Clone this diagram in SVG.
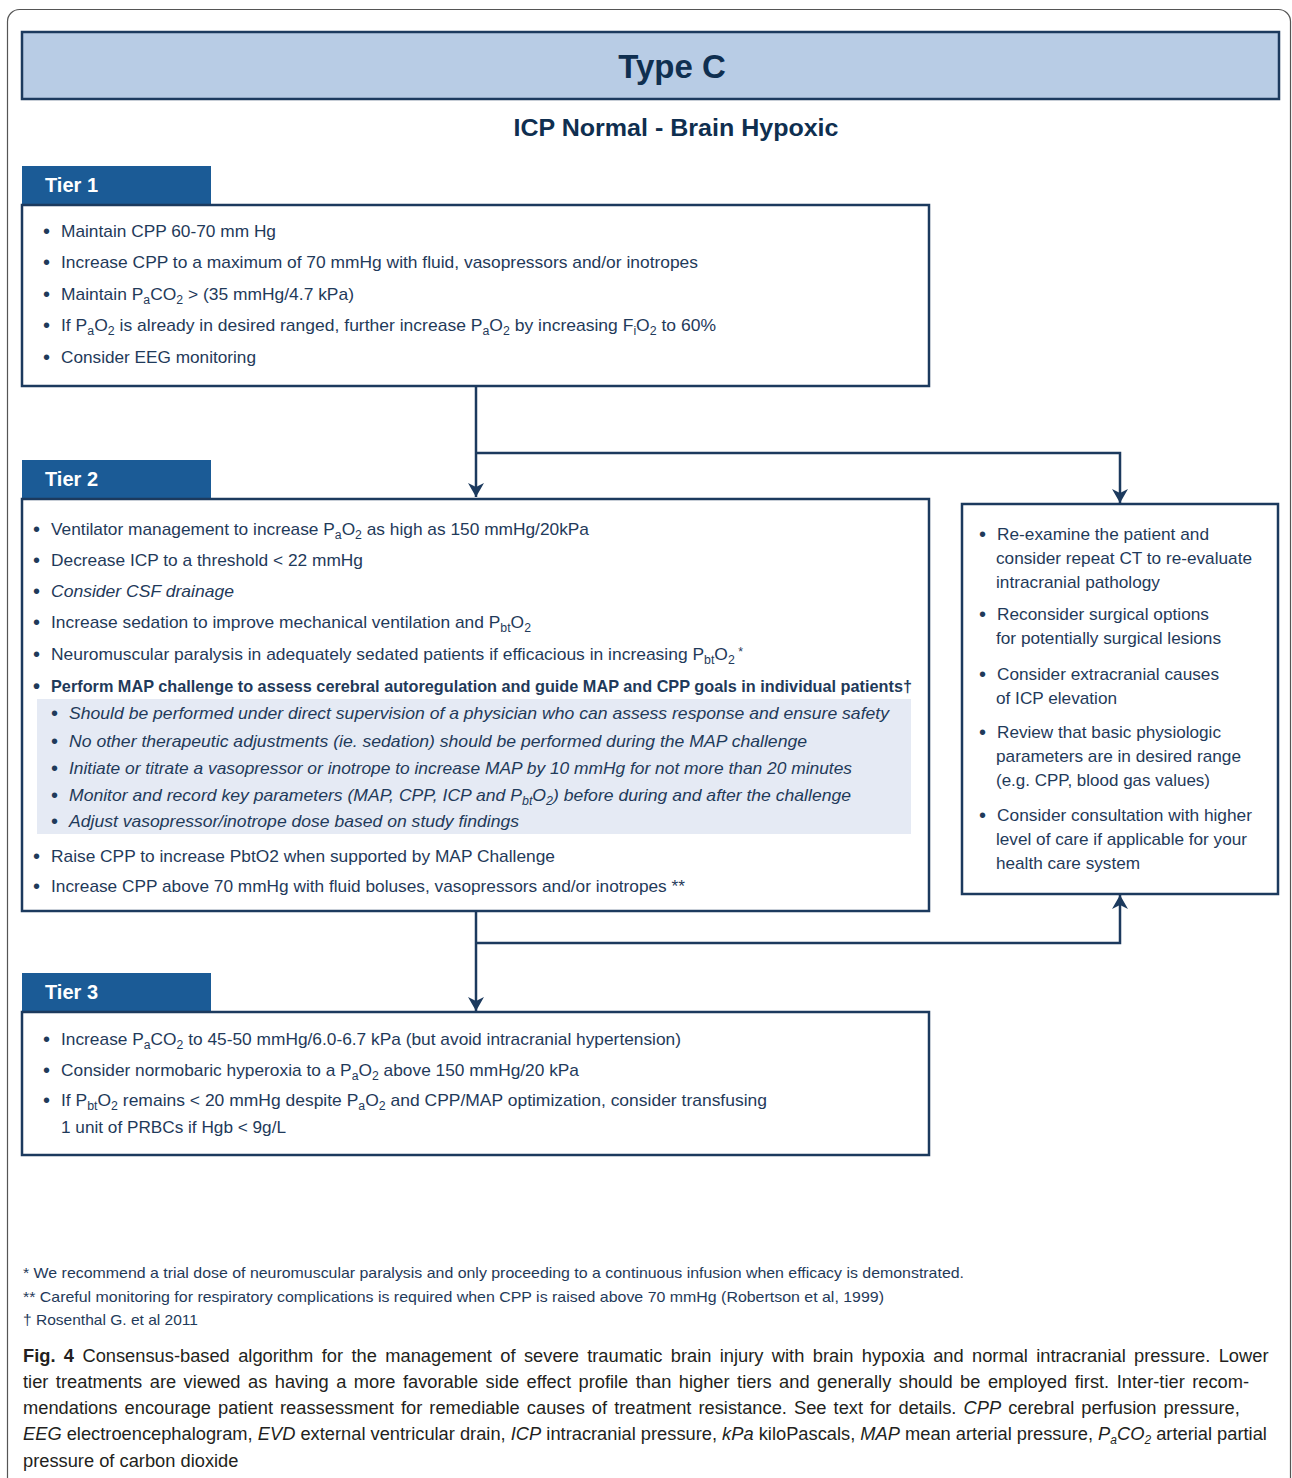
<svg xmlns="http://www.w3.org/2000/svg" width="1292" height="1478" viewBox="0 0 1292 1478">
<defs>
<style>
.frame{fill:none;stroke:#555;stroke-width:1.2}
.box{fill:#fff;stroke:#1c3a5e;stroke-width:2.5}
.tab{fill:#1b5b96}
.tabt{font-family:"Liberation Sans",Arial,sans-serif;font-size:20px;font-weight:bold;fill:#fff}
.t{font-family:"Liberation Sans",Arial,sans-serif;font-size:17px;fill:#1f3a5a}
.r{font-family:"Liberation Sans",Arial,sans-serif;font-size:17px;fill:#1f3a5a}
.fn{font-family:"Liberation Sans",Arial,sans-serif;font-size:15px;fill:#1f3a5a}
.cap{font-family:"Liberation Sans",Arial,sans-serif;font-size:18.3px;fill:#231f20}
.it{font-style:italic}
.b{font-weight:bold}
.s{font-size:12px}
.bu{font-size:20px}
.conn{fill:none;stroke:#1c3a5e;stroke-width:2.5}
</style>
<marker id="arr" viewBox="0 0 14 16" refX="14" refY="8" markerWidth="14" markerHeight="16" markerUnits="userSpaceOnUse" orient="auto">
<path d="M0,0 L14,8 L0,16 L4,8 z" fill="#1c3a5e"/>
</marker>
</defs>
<rect width="1292" height="1478" fill="#fff"/>
<rect class="frame" x="7.5" y="9.5" width="1283" height="1480" rx="12"/>

<g id="header">
<rect x="22" y="32" width="1257" height="67" fill="#b8cce5" stroke="#1c3a5e" stroke-width="2.5"/>
<text x="672" y="78" text-anchor="middle" font-family="Liberation Sans,Arial,sans-serif" font-size="33" font-weight="bold" fill="#0f2f50">Type C</text>
<text x="676" y="136" text-anchor="middle" font-family="Liberation Sans,Arial,sans-serif" font-size="24" font-weight="bold" fill="#0f2f50" textLength="325" lengthAdjust="spacingAndGlyphs">ICP Normal - Brain Hypoxic</text>
</g>

<g id="connectors">
<path class="conn" d="M476,386 V497" marker-end="url(#arr)"/>
<path class="conn" d="M476,453 H1120 V503" marker-end="url(#arr)"/>
<path class="conn" d="M476,911 V1011" marker-end="url(#arr)"/>
<path class="conn" d="M476,943 H1120 V895" marker-end="url(#arr)"/>
</g>

<g id="tier1">
<rect class="tab" x="22" y="166" width="189" height="40"/>
<text class="tabt" x="45" y="192">Tier 1</text>
<rect class="box" x="22" y="205" width="907" height="181"/>
<g class="t">
<text class="bu" x="43" y="238">•</text><text x="61" y="237" textLength="215" lengthAdjust="spacingAndGlyphs">Maintain CPP 60-70 mm Hg</text>
<text class="bu" x="43" y="269">•</text><text x="61" y="268" textLength="637" lengthAdjust="spacingAndGlyphs">Increase CPP to a maximum of 70 mmHg with  fluid, vasopressors and/or inotropes</text>
<text class="bu" x="43" y="301">•</text><text x="61" y="300" textLength="293" lengthAdjust="spacingAndGlyphs">Maintain P<tspan class="s" dy="4">a</tspan><tspan dy="-4">CO</tspan><tspan class="s" dy="4">2</tspan><tspan dy="-4"> &gt; (35 mmHg/4.7 kPa)</tspan></text>
<text class="bu" x="43" y="332">•</text><text x="61" y="331" textLength="655" lengthAdjust="spacingAndGlyphs">If P<tspan class="s" dy="4">a</tspan><tspan dy="-4">O</tspan><tspan class="s" dy="4">2</tspan><tspan dy="-4"> is already in desired ranged, further increase P</tspan><tspan class="s" dy="4">a</tspan><tspan dy="-4">O</tspan><tspan class="s" dy="4">2</tspan><tspan dy="-4"> by increasing F</tspan><tspan class="s" dy="4">i</tspan><tspan dy="-4">O</tspan><tspan class="s" dy="4">2</tspan><tspan dy="-4"> to 60%</tspan></text>
<text class="bu" x="43" y="364">•</text><text x="61" y="363" textLength="195" lengthAdjust="spacingAndGlyphs">Consider EEG monitoring</text>
</g>
</g>

<g id="tier2">
<rect class="tab" x="22" y="460" width="189" height="40"/>
<text class="tabt" x="45" y="486">Tier 2</text>
<rect class="box" x="22" y="499" width="907" height="412"/>
<rect x="37" y="699" width="874" height="135" fill="#e5eaf4"/>
<g class="t">
<text class="bu" x="33" y="536">•</text><text x="51" y="535" textLength="538" lengthAdjust="spacingAndGlyphs">Ventilator management to increase P<tspan class="s" dy="4">a</tspan><tspan dy="-4">O</tspan><tspan class="s" dy="4">2</tspan><tspan dy="-4"> as high as 150 mmHg/20kPa</tspan></text>
<text class="bu" x="33" y="567">•</text><text x="51" y="566" textLength="312" lengthAdjust="spacingAndGlyphs">Decrease ICP to a threshold &lt; 22 mmHg</text>
<text class="bu" x="33" y="598">•</text><text x="51" y="597" class="it" textLength="183" lengthAdjust="spacingAndGlyphs">Consider CSF drainage</text>
<text class="bu" x="33" y="629">•</text><text x="51" y="628" textLength="480" lengthAdjust="spacingAndGlyphs">Increase sedation to improve mechanical ventilation and P<tspan class="s" dy="4">bt</tspan><tspan dy="-4">O</tspan><tspan class="s" dy="4">2</tspan></text>
<text class="bu" x="33" y="661">•</text><text x="51" y="660" textLength="692" lengthAdjust="spacingAndGlyphs">Neuromuscular paralysis in adequately sedated patients if efficacious in increasing P<tspan class="s" dy="4">bt</tspan><tspan dy="-4">O</tspan><tspan class="s" dy="4">2</tspan><tspan dy="-8" class="s"> *</tspan></text>
<text class="bu b" x="33" y="693">•</text><text x="51" y="692" class="b" textLength="861" lengthAdjust="spacingAndGlyphs">Perform MAP challenge to assess cerebral autoregulation and guide MAP and CPP goals in individual patients†</text>
<text class="bu" x="51" y="720">•</text><text x="69" y="719" class="it" textLength="820" lengthAdjust="spacingAndGlyphs">Should be performed under direct supervision of a physician who can assess response and ensure safety</text>
<text class="bu" x="51" y="748">•</text><text x="69" y="747" class="it" textLength="738" lengthAdjust="spacingAndGlyphs">No other therapeutic adjustments (ie. sedation) should be performed during the MAP challenge</text>
<text class="bu" x="51" y="775">•</text><text x="69" y="774" class="it" textLength="783" lengthAdjust="spacingAndGlyphs">Initiate or titrate a vasopressor or inotrope to increase MAP by 10 mmHg for not more than 20 minutes</text>
<text class="bu" x="51" y="802">•</text><text x="69" y="801" class="it" textLength="782" lengthAdjust="spacingAndGlyphs">Monitor and record key parameters (MAP, CPP, ICP and P<tspan class="s" dy="4">bt</tspan><tspan dy="-4">O</tspan><tspan class="s" dy="4">2</tspan><tspan dy="-4">) before during and after the challenge</tspan></text>
<text class="bu" x="51" y="828">•</text><text x="69" y="827" class="it" textLength="450" lengthAdjust="spacingAndGlyphs">Adjust vasopressor/inotrope dose based on study findings</text>
<text class="bu" x="33" y="863">•</text><text x="51" y="862" textLength="504" lengthAdjust="spacingAndGlyphs">Raise CPP to increase PbtO2 when supported by MAP Challenge</text>
<text class="bu" x="33" y="893">•</text><text x="51" y="892" textLength="634" lengthAdjust="spacingAndGlyphs">Increase CPP above 70 mmHg with fluid boluses, vasopressors and/or inotropes **</text>
</g>
</g>

<g id="reassess">
<rect class="box" x="962" y="504" width="316" height="390"/>
<g class="r">
<text class="bu" x="979" y="541">•</text><text x="997" y="540" textLength="212" lengthAdjust="spacingAndGlyphs">Re-examine the patient and</text>
<text x="996" y="564" textLength="256" lengthAdjust="spacingAndGlyphs">consider repeat CT to re-evaluate</text>
<text x="996" y="588" textLength="164" lengthAdjust="spacingAndGlyphs">intracranial pathology</text>
<text class="bu" x="979" y="621">•</text><text x="997" y="620" textLength="212" lengthAdjust="spacingAndGlyphs">Reconsider surgical options</text>
<text x="996" y="644" textLength="225" lengthAdjust="spacingAndGlyphs">for potentially surgical lesions</text>
<text class="bu" x="979" y="681">•</text><text x="997" y="680" textLength="222" lengthAdjust="spacingAndGlyphs">Consider extracranial causes</text>
<text x="996" y="704" textLength="121" lengthAdjust="spacingAndGlyphs">of ICP elevation</text>
<text class="bu" x="979" y="739">•</text><text x="997" y="738" textLength="224" lengthAdjust="spacingAndGlyphs">Review that basic physiologic</text>
<text x="996" y="762" textLength="245" lengthAdjust="spacingAndGlyphs">parameters are in desired range</text>
<text x="996" y="786" textLength="214" lengthAdjust="spacingAndGlyphs">(e.g. CPP, blood gas values)</text>
<text class="bu" x="979" y="822">•</text><text x="997" y="821" textLength="255" lengthAdjust="spacingAndGlyphs">Consider consultation with higher</text>
<text x="996" y="845" textLength="251" lengthAdjust="spacingAndGlyphs">level of care if applicable for your</text>
<text x="996" y="869" textLength="144" lengthAdjust="spacingAndGlyphs">health care system</text>
</g>
</g>

<g id="tier3">
<rect class="tab" x="22" y="973" width="189" height="40"/>
<text class="tabt" x="45" y="999">Tier 3</text>
<rect class="box" x="22" y="1012" width="907" height="143"/>
<g class="t">
<text class="bu" x="43" y="1046">•</text><text x="61" y="1045" textLength="620" lengthAdjust="spacingAndGlyphs">Increase P<tspan class="s" dy="4">a</tspan><tspan dy="-4">CO</tspan><tspan class="s" dy="4">2</tspan><tspan dy="-4"> to 45-50 mmHg/6.0-6.7 kPa (but avoid intracranial hypertension)</tspan></text>
<text class="bu" x="43" y="1077">•</text><text x="61" y="1076" textLength="518" lengthAdjust="spacingAndGlyphs">Consider normobaric hyperoxia to a P<tspan class="s" dy="4">a</tspan><tspan dy="-4">O</tspan><tspan class="s" dy="4">2</tspan><tspan dy="-4"> above 150 mmHg/20 kPa</tspan></text>
<text class="bu" x="43" y="1107">•</text><text x="61" y="1106" textLength="706" lengthAdjust="spacingAndGlyphs">If P<tspan class="s" dy="4">bt</tspan><tspan dy="-4">O</tspan><tspan class="s" dy="4">2</tspan><tspan dy="-4"> remains &lt; 20 mmHg despite P</tspan><tspan class="s" dy="4">a</tspan><tspan dy="-4">O</tspan><tspan class="s" dy="4">2</tspan><tspan dy="-4"> and CPP/MAP optimization, consider transfusing</tspan></text>
<text x="61" y="1133" textLength="225" lengthAdjust="spacingAndGlyphs">1 unit of PRBCs if Hgb &lt; 9g/L</text>
</g>
</g>

<g id="footnotes" class="fn">
<text x="23" y="1278" textLength="941" lengthAdjust="spacingAndGlyphs">* We recommend a trial dose of neuromuscular paralysis and only proceeding to a continuous infusion when efficacy is demonstrated.</text>
<text x="23" y="1302" textLength="861" lengthAdjust="spacingAndGlyphs">** Careful monitoring for respiratory complications is required when CPP is raised above 70 mmHg (Robertson et al, 1999)</text>
<text x="23" y="1325" textLength="175" lengthAdjust="spacingAndGlyphs">† Rosenthal G. et al 2011</text>
</g>

<g id="caption" class="cap">
<text x="23" y="1362" word-spacing="3.3"><tspan class="b">Fig. 4</tspan>  Consensus-based algorithm for the management of severe traumatic brain injury with brain hypoxia and normal intracranial pressure. Lower</text>
<text x="23" y="1388" word-spacing="2.4">tier treatments are viewed as having a more favorable side effect profile than higher tiers and generally should be employed first. Inter-tier recom-</text>
<text x="23" y="1414" word-spacing="2">mendations encourage patient reassessment for remediable causes of treatment resistance. See text for details. <tspan class="it">CPP</tspan> cerebral perfusion pressure,</text>
<text x="23" y="1440"><tspan class="it">EEG</tspan> electroencephalogram, <tspan class="it">EVD</tspan> external ventricular drain, <tspan class="it">ICP</tspan> intracranial pressure, <tspan class="it">kPa</tspan> kiloPascals, <tspan class="it">MAP</tspan> mean arterial pressure, <tspan class="it">P</tspan><tspan class="it s" dy="4">a</tspan><tspan class="it" dy="-4">CO</tspan><tspan class="it s" dy="4">2</tspan><tspan dy="-4"> arterial partial</tspan></text>
<text x="23" y="1467">pressure of carbon dioxide</text>
</g>
</svg>
